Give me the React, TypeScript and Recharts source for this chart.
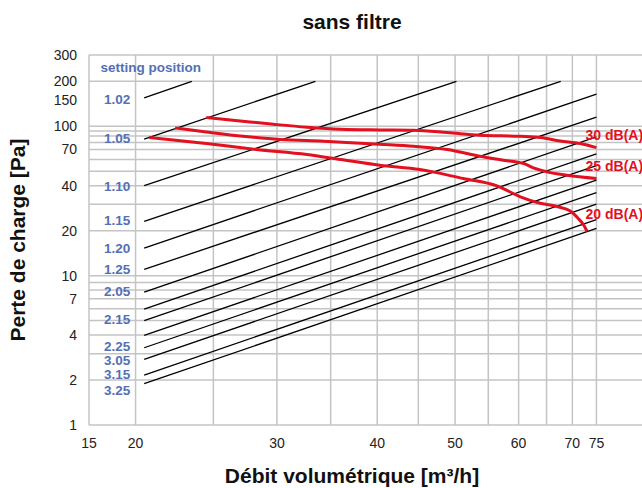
import React from 'react';
import {
  ComposedChart,
  Line,
  Scatter,
  XAxis,
  YAxis,
  CartesianGrid,
} from 'recharts';

// axis ticks and grid (the left edge of the plot is labelled 15)
const xTicks = [17.5, 20, 30, 40, 50, 60, 70, 75];
const xTickLabels = ['15', '20', '30', '40', '50', '60', '70', '75'];
const xGrid = [17.5, 20, 25, 30, 35, 40, 45, 50, 55, 60, 65, 70, 75];
const yTicks = [1, 2, 4, 7, 10, 20, 40, 70, 100, 150, 200, 300];
const yGrid = [1, 2, 3, 4, 5, 6, 7, 8, 9, 10, 20, 30, 40, 50, 60, 70, 78, 86, 93, 100, 200, 300];

// setting position lines (flow m3/h, pressure Pa)
const settingIds = ['1.02', '1.05', '1.10', '1.15', '1.20', '1.25', '2.05', '2.10', '2.15', '2.20', '2.25', '3.05', '3.15', '3.25'];
const lineStartX = 20.5;
const lineStartY = [155, 82, 40, 23.1, 15.3, 11, 7.76, 5.97, 4.99, 3.98, 3.29, 2.75, 2.16, 1.89];
const lineEndX = [23.5, 33.5, 50.2, 67.7, 75, 75, 75, 75, 75, 75, 75, 75, 75, 75];
const lineEndY = [200, 200, 200, 200, 164, 115, 85, 65.4, 54.6, 43.6, 36, 30.1, 23.7, 20.7];

const settingLabels = ['1.02', '1.05', '1.10', '1.15', '1.20', '1.25', '2.05', '2.15', '2.25', '3.05', '3.15', '3.25'];
const settingLabelX = 19.7;
const settingLabelY = [153, 83.5, 39.9, 23.4, 15.2, 11.1, 7.84, 5.09, 3.38, 2.72, 2.19, 1.7];

// noise curves
const curve30 = [
  [24.5, 114.4], [27, 108.5], [29.7, 103.1], [32.7, 98.5], [36, 95.5], [40.3, 94.5],
  [44.4, 94], [48.9, 90.8], [53.7, 87.1], [60.3, 85.7], [63.9, 84], [67.6, 79.7],
  [71.6, 76.6], [75, 72],
];
const curve25 = [
  [22.4, 97.4], [24.5, 91.6], [27, 86.1], [30.3, 81.5], [34.3, 79.4], [40.3, 75.8],
  [44.4, 73.5], [48.9, 69.9], [53.7, 63], [57.2, 59.5], [60.9, 56.3], [62.6, 52.6],
  [65.1, 49.5], [68.9, 47], [75, 44.7],
];
const curve20 = [
  [20.8, 84], [24.5, 76.6], [28.3, 69.9], [32.7, 64.7], [36, 59.9], [40.3, 54.8],
  [45.2, 51.3], [51.2, 44.7], [56.4, 39.9], [60.3, 33.7], [63.3, 30.9], [67, 29],
  [69.6, 27.1], [70.9, 24.7], [72.3, 21.8], [73, 19.8],
];
const curveLabels = ['30 dB(A)', '25 dB(A)', '20 dB(A)'];
const curveLabelX = 72.7;
const curveLabelY = [88, 54, 25.8];

const BLUE = '#5270b5';
const RED = '#e3101f';
const FONT = '"Liberation Sans", Arial, sans-serif';

const toPoints = (pts: number[][]) => pts.map(([x, y]) => ({ x, y }));

const settingLines = settingIds.map((id, i) => ({
  id,
  data: [
    { x: lineStartX, y: lineStartY[i] },
    { x: lineEndX[i], y: lineEndY[i] },
  ],
}));

const settingLabelData = settingLabels.map((label, i) => ({
  x: settingLabelX,
  y: settingLabelY[i],
  label,
}));
const headerData = [{ x: 18.09, y: 247, label: 'setting position' }];
const curveLabelData = curveLabels.map((label, i) => ({
  x: curveLabelX,
  y: curveLabelY[i],
  label,
}));

const makeText = (anchor: 'start' | 'end', color: string, size: number) => (props: any) => (
  <text
    x={props.cx}
    y={props.cy}
    dy="0.36em"
    textAnchor={anchor}
    fill={color}
    fontSize={size}
    fontWeight="bold"
    fontFamily={FONT}
  >
    {props.payload.label}
  </text>
);

const tickStyle = { fill: '#222', fontSize: 14, fontFamily: FONT };

export default function App() {
  return (
    <div style={{ position: 'fixed', left: 0, top: 0, width: 642, height: 488, overflow: 'hidden', background: '#fff', fontFamily: FONT }}>
      <div style={{ position: 'absolute', left: 0, width: 704, top: 10, textAlign: 'center', fontSize: 21, fontWeight: 'bold', color: '#111' }}>
        sans filtre
      </div>
      <ComposedChart width={700} height={488} margin={{ top: 55, right: 40, left: 0, bottom: 0 }}>
        <CartesianGrid
          stroke="#c4c4c4"
          strokeWidth={1.5}
          horizontalValues={yGrid}
          verticalValues={xGrid}
        />
        <XAxis
          type="number"
          dataKey="x"
          scale="log"
          domain={[17.5, 90]}
          allowDataOverflow
          ticks={xTicks}
          tickFormatter={(v: number) => xTickLabels[xTicks.indexOf(v)] ?? String(v)}
          interval={0}
          axisLine={false}
          tickLine={false}
          tickMargin={7}
          height={63}
          tick={tickStyle}
        />
        <YAxis
          type="number"
          dataKey="y"
          scale="log"
          domain={[1, 300]}
          allowDataOverflow
          ticks={yTicks}
          interval={0}
          axisLine={false}
          tickLine={false}
          tickMargin={6}
          width={89}
          tick={tickStyle}
        />
        {settingLines.map((s) => (
          <Line
            key={s.id}
            data={s.data}
            dataKey="y"
            stroke="#000"
            strokeWidth={1.3}
            dot={false}
            activeDot={false}
            isAnimationActive={false}
          />
        ))}
        {[curve30, curve25, curve20].map((c, i) => (
          <Line
            key={'c' + i}
            data={toPoints(c)}
            dataKey="y"
            type="monotone"
            stroke={RED}
            strokeWidth={3}
            dot={false}
            activeDot={false}
            isAnimationActive={false}
          />
        ))}
        <Scatter data={settingLabelData} shape={makeText('end', BLUE, 13.5)} isAnimationActive={false} />
        <Scatter data={headerData} shape={makeText('start', BLUE, 13.5)} isAnimationActive={false} />
        <Scatter data={curveLabelData} shape={makeText('start', RED, 14)} isAnimationActive={false} />
      </ComposedChart>
      <div style={{ position: 'absolute', left: 0, width: 704, top: 464, textAlign: 'center', fontSize: 21, fontWeight: 'bold', color: '#111' }}>
        Débit volumétrique [m³/h]
      </div>
      <div
        style={{
          position: 'absolute',
          left: 18,
          top: 240,
          transform: 'translate(-50%, -50%) rotate(-90deg)',
          whiteSpace: 'nowrap',
          fontSize: 21,
          fontWeight: 'bold',
          color: '#111',
        }}
      >
        Perte de charge [Pa]
      </div>
    </div>
  );
}
